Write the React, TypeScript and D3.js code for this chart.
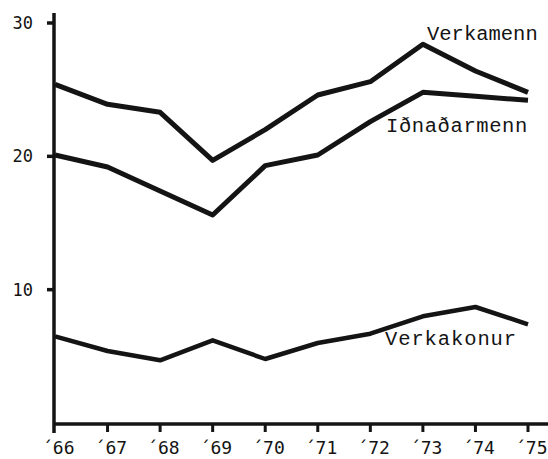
import { useEffect, useRef } from 'react';
import * as d3 from 'd3';

const years = ['66', '67', '68', '69', '70', '71', '72', '73', '74', '75'];
const verkamenn = [25.4, 23.9, 23.3, 19.7, 22.0, 24.6, 25.6, 28.4, 26.4, 24.8];
const idnadarmenn = [20.1, 19.2, 17.4, 15.6, 19.3, 20.1, 22.6, 24.8, 24.5, 24.2];
const verkakonur = [6.5, 5.4, 4.7, 6.2, 4.8, 6.0, 6.7, 8.0, 8.7, 7.4];
const yTicks = [10, 20, 30];

const seriesList = [
  { name: 'Verkamenn', values: verkamenn, width: 5 },
  { name: 'Iðnaðarmenn', values: idnadarmenn, width: 5 },
  { name: 'Verkakonur', values: verkakonur, width: 4.5 }
];

export default function App() {
  const svgRef = useRef(null);

  useEffect(() => {
    if (!svgRef.current) return;

    const width = 548;
    const height = 459;
    const axisX = 54;
    const axisY = 424;

    const svg = d3.select(svgRef.current);
    svg.selectAll('*').remove();
    svg.attr('width', width).attr('height', height);

    const x = d3.scalePoint()
      .domain(years)
      .range([axisX + 1, 528]);

    const y = d3.scaleLinear()
      .domain([0, 30])
      .range([axisY - 1, 23]);

    const ink = '#141414';

    // axes
    svg.append('line')
      .attr('x1', axisX).attr('x2', axisX)
      .attr('y1', 13).attr('y2', 433)
      .attr('stroke', ink)
      .attr('stroke-width', 3.5);

    svg.append('line')
      .attr('x1', axisX).attr('x2', width)
      .attr('y1', axisY).attr('y2', axisY)
      .attr('stroke', ink)
      .attr('stroke-width', 3.5);

    // x ticks + labels
    years.forEach((yr, i) => {
      const px = x(yr);
      if (i > 0) {
        svg.append('line')
          .attr('x1', px).attr('x2', px)
          .attr('y1', axisY).attr('y2', axisY + 8)
          .attr('stroke', ink)
          .attr('stroke-width', 3);
      }
      svg.append('text')
        .attr('x', px - 13)
        .attr('y', 454)
        .attr('font-family', 'DejaVu Sans Mono, monospace')
        .attr('font-size', '18px')
        .attr('fill', ink)
        .text('´' + yr);
    });

    // y ticks + labels
    yTicks.forEach(v => {
      svg.append('line')
        .attr('x1', axisX - 7).attr('x2', axisX)
        .attr('y1', y(v)).attr('y2', y(v))
        .attr('stroke', ink)
        .attr('stroke-width', 3.5);
      svg.append('text')
        .attr('x', 33)
        .attr('y', y(v) + 6)
        .attr('text-anchor', 'end')
        .attr('font-family', 'DejaVu Sans Mono, monospace')
        .attr('font-size', '17px')
        .attr('fill', ink)
        .text(v);
    });

    const line = d3.line()
      .x((d, i) => x(years[i]))
      .y(d => y(d));

    seriesList.forEach(s => {
      svg.append('path')
        .datum(s.values)
        .attr('d', line)
        .attr('fill', 'none')
        .attr('stroke', ink)
        .attr('stroke-width', s.width)
        .attr('stroke-linejoin', 'round');
    });

    // series labels
    const labels = [
      { text: 'Verkamenn', x: 427, y: 40, ls: 0 },
      { text: 'Iðnaðarmenn', x: 386, y: 132, ls: 0.6 },
      { text: 'Verkakonur', x: 385, y: 345, ls: 0.9 }
    ];
    labels.forEach(l => {
      svg.append('text')
        .attr('x', l.x)
        .attr('y', l.y)
        .attr('font-family', 'Liberation Mono, Courier New, monospace')
        .attr('font-size', '20.5px')
        .attr('letter-spacing', l.ls)
        .attr('fill', ink)
        .text(l.text);
    });
  }, []);

  return (
    <div style={{ position: 'absolute', left: 0, top: 0, background: '#fff' }}>
      <svg ref={svgRef} style={{ display: 'block' }} />
    </div>
  );
}
